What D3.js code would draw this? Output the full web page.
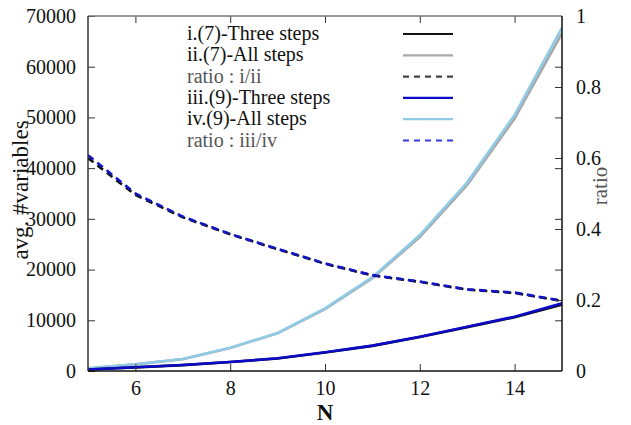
<!DOCTYPE html>
<html>
<head>
<meta charset="utf-8">
<script src="https://cdn.jsdelivr.net/npm/d3@7"></script>
<style>
  html, body { margin: 0; padding: 0; background: #fff; }
  svg { display: block; }
</style>
</head>
<body>
<svg id="chart" width="631" height="425"></svg>
<script>
// ---- data ----
const N = [5, 6, 7, 8, 9, 10, 11, 12, 13, 14, 15];
const threeSteps7 = [290, 720, 1160, 1760, 2470, 3650, 4950, 6700, 8650, 10600, 13100];
const allSteps7   = [520, 1300, 2340, 4550, 7420, 12200, 18300, 26400, 36700, 49800, 66600];
const ratio7      = [0.600, 0.496, 0.433, 0.385, 0.343, 0.302, 0.269, 0.251, 0.229, 0.220, 0.197];
const threeSteps9 = [300, 730, 1180, 1780, 2500, 3690, 5000, 6770, 8740, 10700, 13350];
const allSteps9   = [530, 1320, 2370, 4600, 7500, 12360, 18500, 26800, 37200, 50500, 67700];
const ratio9      = [0.608, 0.500, 0.435, 0.386, 0.344, 0.303, 0.270, 0.252, 0.230, 0.221, 0.198];
const yTicks  = [0, 10000, 20000, 30000, 40000, 50000, 60000, 70000];
const y2Ticks = [0, 0.2, 0.4, 0.6, 0.8, 1];
const xTicks  = [6, 8, 10, 12, 14];
const legendLabels = ["i.(7)-Three steps", "ii.(7)-All steps", "ratio : i/ii",
                      "iii.(9)-Three steps", "iv.(9)-All steps", "ratio : iii/iv"];

const SERIF = "Liberation Serif";

// ---- layout ----
const svg = d3.select("#chart");
const L = 88, R = 562, T = 16, B = 371;
const x = d3.scaleLinear().domain([5, 15]).range([L, R]);
const y = d3.scaleLinear().domain([0, 70000]).range([B, T]);
const y2 = d3.scaleLinear().domain([0, 1]).range([B, T]);

const series = [
  { vals: allSteps7,   scale: y,  color: "#a8a8a8", dash: null,  legendColor: "#a8a8a8" },
  { vals: allSteps9,   scale: y,  color: "#8fcbe6", dash: null,  legendColor: "#8fcbe6" },
  { vals: threeSteps7, scale: y,  color: "#111111", dash: null,  legendColor: "#111111" },
  { vals: threeSteps9, scale: y,  color: "#0a0ac8", dash: null,  legendColor: "#0a0ac8" },
  { vals: ratio7,      scale: y2, color: "#111111", dash: "7,5", legendColor: "#444444" },
  { vals: ratio9,      scale: y2, color: "#1515c8", dash: "7,5", legendColor: "#3a3ae0" }
];

svg.append("defs").append("clipPath").attr("id", "clip")
  .append("rect").attr("x", L).attr("y", T).attr("width", R - L).attr("height", B - T);

const g = svg.append("g").attr("clip-path", "url(#clip)");
series.forEach(s => {
  const line = d3.line().x((d, i) => x(N[i])).y(d => s.scale(d));
  g.append("path").datum(s.vals)
    .attr("d", line)
    .attr("fill", "none")
    .attr("stroke", s.color)
    .attr("stroke-width", 2.6)
    .attr("stroke-dasharray", s.dash);
});

const tickLen = 7;
const axL = svg.append("g").attr("transform", `translate(${L},0)`)
  .call(d3.axisLeft(y).tickValues(yTicks).tickSize(-tickLen).tickPadding(12).tickFormat(d3.format("d")));
const axB = svg.append("g").attr("transform", `translate(0,${B})`)
  .call(d3.axisBottom(x).tickValues(xTicks).tickSize(-tickLen).tickPadding(10).tickFormat(d3.format("d")));
const axT = svg.append("g").attr("transform", `translate(0,${T})`)
  .call(d3.axisTop(x).tickValues(xTicks).tickSize(-tickLen).tickFormat(""));
const axR = svg.append("g").attr("transform", `translate(${R},0)`)
  .call(d3.axisRight(y).tickValues(yTicks.slice(1, -1)).tickSize(-tickLen).tickFormat(""));
const axR2 = svg.append("g").attr("transform", `translate(${R},0)`)
  .call(d3.axisRight(y2).tickValues(y2Ticks).tickSize(-tickLen).tickPadding(14).tickFormat(d => String(d)));

[axL, axB, axT, axR, axR2].forEach(a => {
  a.attr("font-family", SERIF);
  a.select(".domain").remove();
  a.selectAll(".tick line").attr("stroke", "#333").attr("stroke-width", 1);
  a.selectAll(".tick text").attr("font-size", 20).attr("fill", "#111").style("font-family", SERIF);
});
axR2.selectAll(".tick").filter(d => d === 0 || d === 1).select("line").remove();

svg.append("line").attr("x1", L).attr("x2", R).attr("y1", T).attr("y2", T).attr("stroke", "#777").attr("stroke-width", 1.5);
svg.append("line").attr("x1", L).attr("x2", R).attr("y1", B).attr("y2", B).attr("stroke", "#111").attr("stroke-width", 1.5);
svg.append("line").attr("x1", L).attr("x2", L).attr("y1", T).attr("y2", B).attr("stroke", "#333").attr("stroke-width", 1.5);
svg.append("line").attr("x1", R).attr("x2", R).attr("y1", T).attr("y2", B).attr("stroke", "#111").attr("stroke-width", 1.5);

svg.append("text").attr("transform", "translate(28,190) rotate(-90)").style("font-family", SERIF)
  .attr("text-anchor", "middle").attr("font-size", 23).attr("fill", "#111").text("avg. #variables");
svg.append("text").attr("transform", "translate(607,186) rotate(-90)").style("font-family", SERIF)
  .attr("text-anchor", "middle").attr("font-size", 21).attr("fill", "#555").text("ratio");
svg.append("text").attr("x", 325).attr("y", 420).style("font-family", SERIF)
  .attr("text-anchor", "middle").attr("font-size", 23).attr("font-weight", "bold").attr("fill", "#111").text("N");

const legOrder = [2, 0, 4, 3, 1, 5];
const legY0 = 34, legDy = 21.3;
legendLabels.forEach((lab, i) => {
  const s = series[legOrder[i]];
  const yy = legY0 + i * legDy;
  svg.append("text").attr("x", 187).attr("y", yy + 6).attr("font-size", 20).style("font-family", SERIF)
    .attr("fill", lab.startsWith("ratio") ? "#555" : "#111").text(lab);
  svg.append("line").attr("x1", 403).attr("x2", 453).attr("y1", yy).attr("y2", yy)
    .attr("stroke", s.legendColor).attr("stroke-width", 2.2)
    .attr("stroke-dasharray", s.dash ? "6,5" : null);
});
</script>
</body>
</html>
